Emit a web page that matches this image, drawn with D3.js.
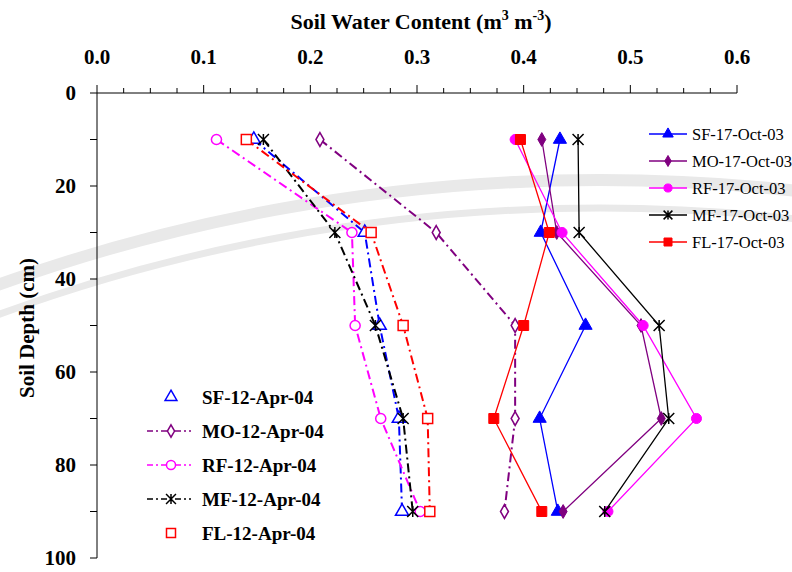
<!DOCTYPE html>
<html>
<head>
<meta charset="utf-8">
<script src="https://cdn.jsdelivr.net/npm/d3@7"></script>
<style>
  body { margin: 0; background: #fff; }
  svg { font-family: "Liberation Serif", "Times New Roman", serif; }
</style>
</head>
<body>
<script>
// depths (cm) at which water content was measured
var depths = [10, 30, 50, 70, 90];

// 17-Oct-03 (solid lines, filled markers)
var sfOct = [0.434, 0.416, 0.458, 0.415, 0.432];
var moOct = [0.417, 0.431, 0.510, 0.529, 0.437];
var rfOct = [0.392, 0.436, 0.512, 0.562, 0.479];
var mfOct = [0.451, 0.452, 0.527, 0.536, 0.476];
var flOct = [0.397, 0.424, 0.400, 0.372, 0.417];

// 12-Apr-04 (dash-dot lines, open markers)
var sfApr = [0.147, 0.251, 0.265, 0.283, 0.286];
var moApr = [0.209, 0.318, 0.392, 0.392, 0.382];
var rfApr = [0.112, 0.239, 0.242, 0.266, 0.303];
var mfApr = [0.156, 0.223, 0.261, 0.287, 0.296];
var flApr = [0.140, 0.257, 0.287, 0.310, 0.312];

var xTicks = [0, 0.1, 0.2, 0.3, 0.4, 0.5, 0.6];
var yTicks = [0, 20, 40, 60, 80, 100];

var octSeries = [
  {name: "SF-17-Oct-03", values: sfOct, color: "#0000ff", symbol: "triangle"},
  {name: "MO-17-Oct-03", values: moOct, color: "#800080", symbol: "diamond"},
  {name: "RF-17-Oct-03", values: rfOct, color: "#ff00ff", symbol: "circle"},
  {name: "MF-17-Oct-03", values: mfOct, color: "#000000", symbol: "star"},
  {name: "FL-17-Oct-03", values: flOct, color: "#ff0000", symbol: "square"}
];
var aprSeries = [
  {name: "SF-12-Apr-04", values: sfApr, color: "#0000ff", symbol: "triangle"},
  {name: "MO-12-Apr-04", values: moApr, color: "#800080", symbol: "diamond"},
  {name: "RF-12-Apr-04", values: rfApr, color: "#ff00ff", symbol: "circle"},
  {name: "MF-12-Apr-04", values: mfApr, color: "#000000", symbol: "star"},
  {name: "FL-12-Apr-04", values: flApr, color: "#ff0000", symbol: "square"}
];

var svg = d3.select("body").append("svg")
            .attr("width", 792)
            .attr("height", 572);

// faint watermark bands in the background
var wm = svg.append("g").attr("fill", "none").attr("stroke", "#e9e9e9");
wm.append("circle").attr("cx", 600).attr("cy", 1960).attr("r", 1780).attr("stroke-width", 12);
wm.append("circle").attr("cx", 600).attr("cy", 1960).attr("r", 1752).attr("stroke-width", 7);

var x = d3.scaleLinear().domain([0, 0.6]).range([97, 737]);
var y = d3.scaleLinear().domain([0, 100]).range([93, 558]);

// top axis line + ticks
svg.append("line")
   .attr("x1", x(0)).attr("x2", x(0.6))
   .attr("y1", y(0)).attr("y2", y(0))
   .attr("stroke", "#000").attr("stroke-width", 1);

svg.selectAll(".xminor")
   .data(d3.range(0, 0.6001, 0.025))
   .enter().append("line")
   .attr("x1", function(d) { return x(d); })
   .attr("x2", function(d) { return x(d); })
   .attr("y1", y(0))
   .attr("y2", function(d, i) { return y(0) - (i % 4 === 0 ? 8 : 5); })
   .attr("stroke", "#000");

svg.selectAll(".xlab")
   .data(xTicks)
   .enter().append("text")
   .attr("x", function(d) { return x(d); })
   .attr("y", 64)
   .attr("text-anchor", "middle")
   .attr("font-size", 21)
   .attr("font-weight", "bold")
   .text(function(d) { return d3.format(".1f")(d); });

// left axis line + ticks
svg.append("line")
   .attr("x1", x(0)).attr("x2", x(0))
   .attr("y1", y(0)).attr("y2", y(100))
   .attr("stroke", "#000");

svg.selectAll(".ytick")
   .data(d3.range(0, 101, 10))
   .enter().append("line")
   .attr("x1", x(0) - 7)
   .attr("x2", x(0))
   .attr("y1", function(d) { return y(d); })
   .attr("y2", function(d) { return y(d); })
   .attr("stroke", "#000");

svg.selectAll(".ylab")
   .data(yTicks)
   .enter().append("text")
   .attr("x", 76)
   .attr("y", function(d) { return y(d); })
   .attr("dy", "0.35em")
   .attr("text-anchor", "end")
   .attr("font-size", 21)
   .attr("font-weight", "bold")
   .text(function(d) { return d; });

// axis titles
var xt = svg.append("text")
   .attr("x", 421).attr("y", 29)
   .attr("text-anchor", "middle")
   .attr("font-size", 22)
   .attr("font-weight", "bold");
xt.append("tspan").text("Soil Water Content (m");
xt.append("tspan").attr("dy", -9).attr("font-size", 14).text("3");
xt.append("tspan").attr("dy", 9).text(" m");
xt.append("tspan").attr("dy", -9).attr("font-size", 14).text("-3");
xt.append("tspan").attr("dy", 9).text(")");

svg.append("text")
   .attr("transform", "translate(34,328) rotate(-90)")
   .attr("text-anchor", "middle")
   .attr("font-size", 21)
   .attr("font-weight", "bold")
   .text("Soil Depth (cm)");

// markers
function drawMarker(g, sym, color, filled, size) {
  var fill = filled ? color : "#fff";
  if (sym === "star") {
    var s = size * 0.55;
    g.append("path")
     .attr("d", "M" + (-s) + "," + (-s) + "L" + s + "," + s +
                "M" + (-s) + "," + s + "L" + s + "," + (-s) +
                "M0," + (-s) + "L0," + s)
     .attr("stroke", color).attr("stroke-width", 1.5).attr("fill", "none");
    return;
  }
  var type = {triangle: d3.symbolTriangle, diamond: d3.symbolDiamond,
              circle: d3.symbolCircle, square: d3.symbolSquare}[sym];
  var area = {triangle: size * size * 0.75, diamond: size * size * 0.55,
              circle: size * size * 0.8, square: size * size}[sym];
  g.append("path")
   .attr("d", d3.symbol().type(type).size(area)())
   .attr("fill", fill)
   .attr("stroke", color)
   .attr("stroke-width", filled ? 1 : 1.5);
}

var line = d3.line()
             .x(function(d) { return x(d[0]); })
             .y(function(d) { return y(d[1]); });

function drawSeries(s, solid) {
  var pts = s.values.map(function(v, i) { return [v, depths[i]]; });
  svg.append("path")
     .datum(pts)
     .attr("d", line)
     .attr("fill", "none")
     .attr("stroke", s.color)
     .attr("stroke-width", solid ? 1.3 : 2)
     .attr("stroke-dasharray", solid ? null : "9,4,2,4");
  var m = svg.selectAll(null)
     .data(pts)
     .enter().append("g")
     .attr("transform", function(d) { return "translate(" + x(d[0]) + "," + y(d[1]) + ")"; });
  m.each(function() { drawMarker(d3.select(this), s.symbol, s.color, solid, 10); });
}

aprSeries.forEach(function(s) { drawSeries(s, false); });
octSeries.forEach(function(s) { drawSeries(s, true); });

// right legend (Oct)
var lg1 = svg.selectAll(".lg1")
   .data(octSeries)
   .enter().append("g")
   .attr("transform", function(d, i) { return "translate(649," + (134 + i * 27) + ")"; });
lg1.append("line").attr("x1", 0).attr("x2", 38)
   .attr("stroke", function(d) { return d.color; }).attr("stroke-width", 1.3);
lg1.each(function(d) {
  var g = d3.select(this).append("g").attr("transform", "translate(19,0)");
  drawMarker(g, d.symbol, d.color, true, 8);
});
lg1.append("text")
   .attr("x", 43).attr("dy", "0.35em")
   .attr("font-size", 16.5)
   .text(function(d) { return d.name; });

// left legend (Apr)
var lg2 = svg.selectAll(".lg2")
   .data(aprSeries)
   .enter().append("g")
   .attr("transform", function(d, i) { return "translate(147," + (397 + i * 34) + ")"; });
lg2.filter(function(d) { return d.symbol !== "triangle" && d.symbol !== "square"; })
   .append("line").attr("x1", 0).attr("x2", 44)
   .attr("stroke", function(d) { return d.color; })
   .attr("stroke-width", 1.5)
   .attr("stroke-dasharray", "6,3,2,3");
lg2.each(function(d) {
  var g = d3.select(this).append("g").attr("transform", "translate(24,0)");
  drawMarker(g, d.symbol, d.color, false, 9);
});
lg2.append("text")
   .attr("x", 55).attr("dy", "0.35em")
   .attr("font-size", 19)
   .attr("font-weight", "bold")
   .text(function(d) { return d.name; });
</script>
</body>
</html>
